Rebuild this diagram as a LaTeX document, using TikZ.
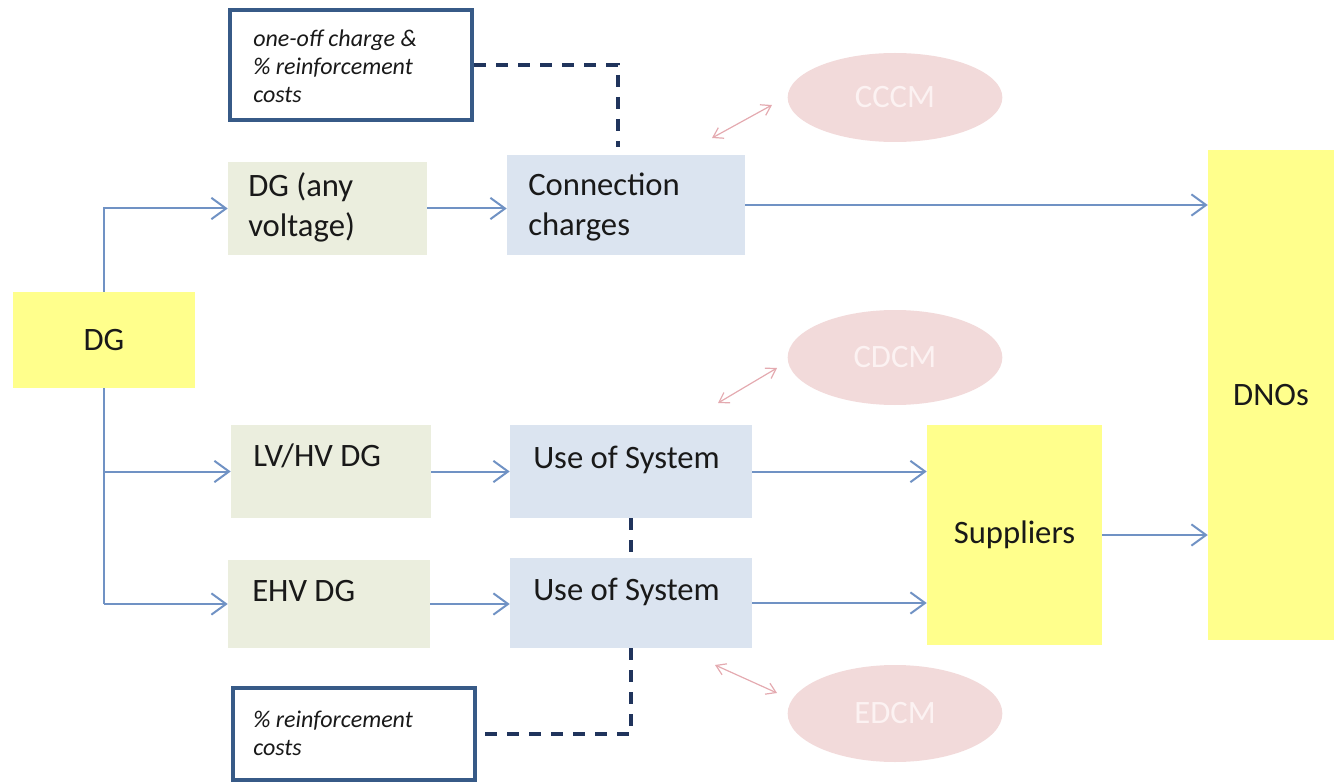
\documentclass[tikz,border=0pt]{standalone}
\usepackage{fontspec}
\setmainfont{Carlito}
\usetikzlibrary{arrows.meta,shapes.geometric,calc}
\definecolor{yel}{RGB}{255,255,140}
\definecolor{grn}{RGB}{235,238,222}
\definecolor{blu}{RGB}{219,228,240}
\definecolor{pnk}{RGB}{242,218,218}
\definecolor{pnktxt}{RGB}{252,242,242}
\definecolor{pnkarr}{RGB}{228,170,176}
\definecolor{conncol}{RGB}{112,146,196}
\definecolor{dashcol}{RGB}{32,52,92}
\definecolor{notecol}{RGB}{55,90,135}
\definecolor{txtcol}{RGB}{25,25,25}
\tikzset{
  box/.style={rectangle, inner sep=0pt, draw=none},
  ybox/.style={box, fill=yel, text=txtcol, font=\fontsize{24.5}{30}\selectfont},
  gbox/.style={box, fill=grn},
  bbox/.style={box, fill=blu},
  notebox/.style={rectangle, inner sep=0pt, draw=notecol, line width=3pt, fill=white},
  txt/.style={inner sep=0pt, text=txtcol, font=\fontsize{24.5}{30}\selectfont, align=left},
  notetxt/.style={inner sep=0pt, text=txtcol, font=\fontsize{18}{21}\selectfont\itshape, align=left},
  model/.style={ellipse, inner sep=0pt, fill=pnk, text=pnktxt, minimum width=161pt, font=\fontsize{24.5}{30}\selectfont},
  flow/.style={draw=conncol, line width=1.5pt, -{Straight Barb[length=11pt,width=16pt,line width=1.5pt]}},
  trunk/.style={draw=conncol, line width=1.5pt},
  dashlink/.style={draw=dashcol, line width=3pt, dash pattern=on 9pt off 7.5pt},
  dbl/.style={draw=pnkarr, line width=0.9pt, {Straight Barb[length=7pt,width=9pt,line width=0.9pt]}-{Straight Barb[length=7pt,width=9pt,line width=0.9pt]}}
}
\begin{document}
\begin{tikzpicture}[x=0.75pt,y=-0.75pt]
\useasboundingbox (0,0) rectangle (1334,784);
% boxes
\node[ybox, minimum width=136.5pt, minimum height=72pt] (dg) at (104,340) {DG};
\node[gbox, minimum width=149.25pt, minimum height=69.75pt] (dgany) at (327.5,208.5) {};
\node[gbox, minimum width=150pt, minimum height=69.75pt] (lvhv) at (331,471.5) {};
\node[gbox, minimum width=151.5pt, minimum height=66pt] (ehv) at (329,604) {};
\node[bbox, minimum width=178.5pt, minimum height=75pt] (conn) at (626,205) {};
\node[bbox, minimum width=181.5pt, minimum height=69.75pt] (uos1) at (631,471.5) {};
\node[bbox, minimum width=181.5pt, minimum height=67.5pt] (uos2) at (631,603) {};
\node[ybox, minimum width=131.25pt, minimum height=165pt] (sup) at (1014.5,535) {Suppliers};
\node[ybox, minimum width=94.5pt, minimum height=367.5pt] (dnos) at (1271,395) {DNOs};
\node[notebox, minimum width=181.5pt, minimum height=82.5pt] (note1) at (351,65) {};
\node[notebox, minimum width=181.5pt, minimum height=69pt] (note2) at (354,734) {};
% ellipses
\node[model, minimum height=66.75pt] (cccm) at (895,97.5) {CCCM};
\node[model, minimum height=71.25pt] (cdcm) at (895,357.5) {CDCM};
\node[model, minimum height=72.75pt] (edcm) at (895,713.5) {EDCM};
% texts
\node[txt, anchor=west] (dganyT) at (248,207) {DG (any\\voltage)};
\node[txt, anchor=base west] (lvhvT) at (253,466) {LV/HV DG};
\node[txt, anchor=base west] (ehvT) at (252,601) {EHV DG};
\node[txt, anchor=west] (connT) at (528,207) {Connection\\charges};
\node[txt, anchor=base west] (uos1T) at (533,468) {Use of System};
\node[txt, anchor=base west] (uos2T) at (533,600) {Use of System};
\node[notetxt, anchor=west] (note1T) at (253,66) {one-off charge \&\\\% reinforcement\\costs};
\node[notetxt, anchor=west] (note2T) at (253,733) {\% reinforcement\\costs};
% connectors
\draw[flow] (dg.north) |- (dgany.west);
\draw[trunk] (dg.south) -- (dg.south |- ehv.west);
\draw[flow] (dg.south |- lvhv.west) -- (lvhv.west);
\draw[flow] (dg.south |- ehv.west) -- (ehv.west);
\draw[flow] (dgany.east) -- (dgany.east -| conn.west);
\draw[flow] (conn.east) -- (conn.east -| dnos.west);
\draw[flow] (lvhv.east) -- (lvhv.east -| uos1.west);
\draw[flow] (ehv.east) -- (ehv.east -| uos2.west);
\draw[flow] (uos1.east) -- (uos1.east -| sup.west);
\draw[flow] (uos2.east) -- (uos2.east -| sup.west);
\draw[flow] (sup.east) -- (sup.east -| dnos.west);
% dashed links
\coordinate (c1) at ([xshift=-6pt, yshift=6pt]conn.north);
\draw[dashlink] (note1.east) -| (c1);
\draw[dashlink] (uos1.south) -- (uos1.south |- uos2.north);
\draw[dashlink] (uos2.south) |- (note2.east);
% double arrows
\coordinate (a1) at (712,138); \coordinate (b1) at (772,105);
\coordinate (a2) at (718,403); \coordinate (b2) at (777,368);
\coordinate (a3) at (715,665); \coordinate (b3) at (777,693);
\draw[dbl] (a1) -- (b1);
\draw[dbl] (a2) -- (b2);
\draw[dbl] (a3) -- (b3);
\end{tikzpicture}
\end{document}
